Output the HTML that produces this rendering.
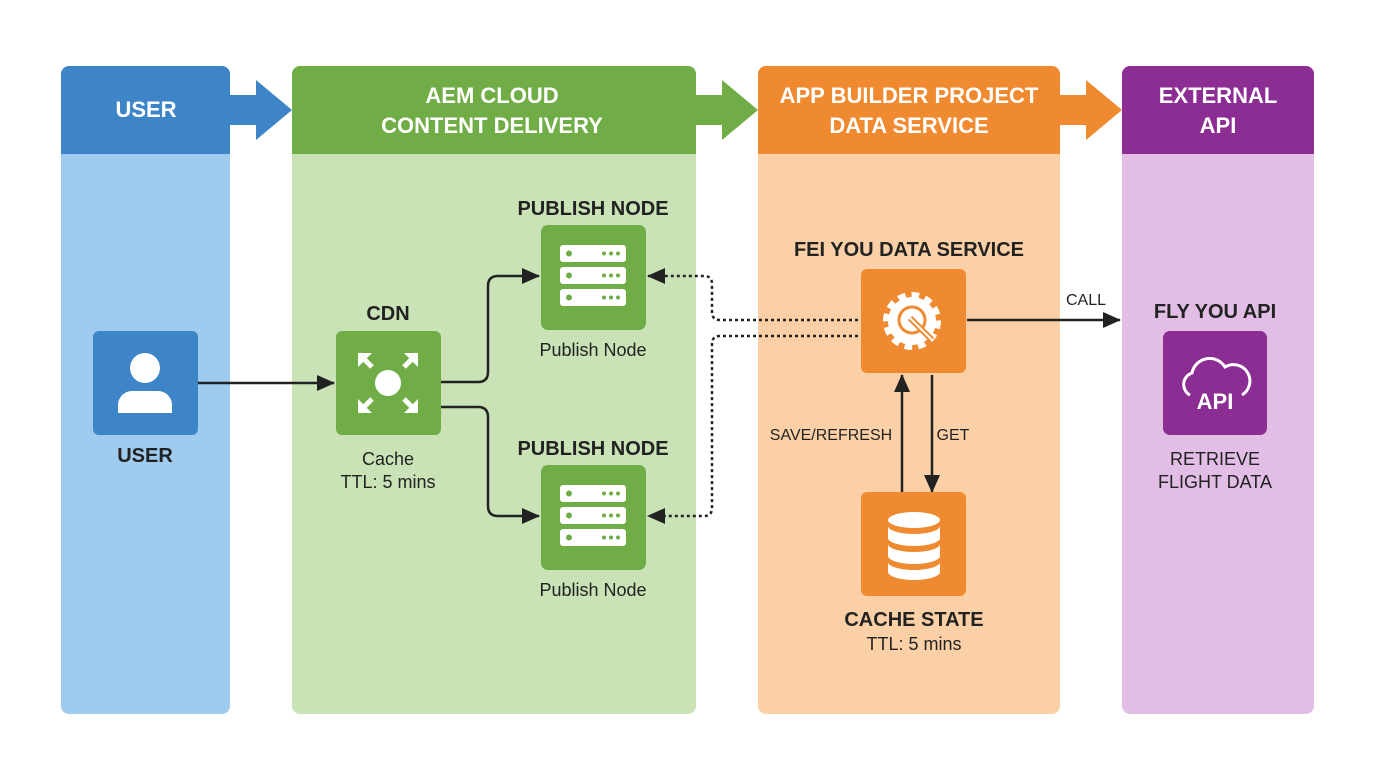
<!DOCTYPE html>
<html><head><meta charset="utf-8"><style>
html,body{margin:0;padding:0;background:#fff;width:1376px;height:768px;overflow:hidden}
text{font-family:"Liberation Sans",sans-serif}
</style></head><body>
<svg width="1376" height="768" viewBox="0 0 1376 768">
<defs>
<marker id="ah" markerWidth="10" markerHeight="10" refX="9" refY="5" orient="auto" markerUnits="userSpaceOnUse"><path d="M0,0 L10,5 L0,10 z" fill="#222"/></marker>
<marker id="ab" markerWidth="18" markerHeight="16" refX="17" refY="8" orient="auto" markerUnits="userSpaceOnUse"><path d="M0,0 L18,8 L0,16 z" fill="#222"/></marker>
</defs>
<!-- columns -->
<rect x="61" y="66" width="169" height="648" rx="8" fill="#9fcbee"/>
<path d="M61,154 V74 a8,8 0 0 1 8,-8 H222 a8,8 0 0 1 8,8 V154 z" fill="#3d85c6"/>
<rect x="292" y="66" width="404" height="648" rx="8" fill="#c9e3b7"/>
<path d="M292,154 V74 a8,8 0 0 1 8,-8 H688 a8,8 0 0 1 8,8 V154 z" fill="#70ad47"/>
<rect x="758" y="66" width="302" height="648" rx="8" fill="#fbd0a6"/>
<path d="M758,154 V74 a8,8 0 0 1 8,-8 H1052 a8,8 0 0 1 8,8 V154 z" fill="#f08a30"/>
<rect x="1122" y="66" width="192" height="648" rx="8" fill="#e2bde5"/>
<path d="M1122,154 V74 a8,8 0 0 1 8,-8 H1306 a8,8 0 0 1 8,8 V154 z" fill="#8b2d93"/>
<!-- header arrows -->
<path d="M230,95 H256 V80 L292,110 L256,140 V125 H230 z" fill="#3d85c6"/>
<path d="M696,95 H722 V80 L758,110 L722,140 V125 H696 z" fill="#70ad47"/>
<path d="M1060,95 H1086 V80 L1122,110 L1086,140 V125 H1060 z" fill="#f08a30"/>
<!-- header text -->
<g fill="#fff" font-weight="bold" font-size="22" text-anchor="middle">
<text x="146" y="117">USER</text>
<text x="492" y="103">AEM CLOUD</text><text x="492" y="133">CONTENT DELIVERY</text>
<text x="909" y="103">APP BUILDER PROJECT</text><text x="909" y="133">DATA SERVICE</text>
<text x="1218" y="103">EXTERNAL</text><text x="1218" y="133">API</text>
</g>
<!-- user node -->
<rect x="93" y="331" width="105" height="104" rx="6" fill="#3d85c6"/>
<circle cx="145" cy="368" r="15" fill="#fff"/>
<path d="M118,413 v-8 a14,14 0 0 1 14,-14 h26 a14,14 0 0 1 14,14 v8 z" fill="#fff"/>
<text x="145" y="462" font-size="20" font-weight="bold" text-anchor="middle" fill="#222">USER</text>
<!-- CDN -->
<text x="388" y="320" font-size="20" font-weight="bold" text-anchor="middle" fill="#222">CDN</text>
<rect x="336" y="331" width="105" height="104" rx="6" fill="#70ad47"/>
<circle cx="388" cy="383" r="13" fill="#fff"/>
<g stroke="#fff" stroke-width="5" fill="#fff">
<line x1="372" y1="367" x2="362" y2="357"/><line x1="404" y1="367" x2="414" y2="357"/>
<line x1="372" y1="399" x2="362" y2="409"/><line x1="404" y1="399" x2="414" y2="409"/>
</g>
<g fill="#fff">
<path d="M358,353 h14 l-14,14z"/><path d="M418,353 h-14 l14,14z"/>
<path d="M358,413 h14 l-14,-14z"/><path d="M418,413 h-14 l14,-14z"/>
</g>
<text x="388" y="465" font-size="18" text-anchor="middle" fill="#222">Cache</text>
<text x="388" y="488" font-size="18" text-anchor="middle" fill="#222">TTL: 5 mins</text>
<!-- publish nodes -->
<g id="pn">
<rect x="541" y="225" width="105" height="105" rx="7" fill="#70ad47"/>
<g fill="#fff"><rect x="560" y="245" width="66" height="17" rx="3"/><rect x="560" y="267" width="66" height="17" rx="3"/><rect x="560" y="289" width="66" height="17" rx="3"/></g>
<g fill="#70ad47"><circle cx="569" cy="253.5" r="3"/><circle cx="569" cy="275.5" r="3"/><circle cx="569" cy="297.5" r="3"/>
<circle cx="604" cy="253.5" r="2"/><circle cx="611" cy="253.5" r="2"/><circle cx="618" cy="253.5" r="2"/>
<circle cx="604" cy="275.5" r="2"/><circle cx="611" cy="275.5" r="2"/><circle cx="618" cy="275.5" r="2"/>
<circle cx="604" cy="297.5" r="2"/><circle cx="611" cy="297.5" r="2"/><circle cx="618" cy="297.5" r="2"/></g>
</g>
<use href="#pn" transform="translate(0,240)"/>
<g font-size="20" font-weight="bold" text-anchor="middle" fill="#222">
<text x="593" y="215">PUBLISH NODE</text><text x="593" y="455">PUBLISH NODE</text></g>
<g font-size="18" text-anchor="middle" fill="#222">
<text x="593" y="356">Publish Node</text><text x="593" y="596">Publish Node</text></g>
<!-- connectors -->
<g stroke="#222" stroke-width="2.5" fill="none">
<line x1="198" y1="383" x2="334" y2="383" marker-end="url(#ab)"/>
<path d="M441,382 H478 Q488,382 488,372 V286 Q488,276 498,276 H539" marker-end="url(#ab)"/>
<path d="M441,407 H478 Q488,407 488,417 V506 Q488,516 498,516 H539" marker-end="url(#ab)"/>
<line x1="967" y1="320" x2="1120" y2="320" marker-end="url(#ab)"/>
<line x1="902" y1="492" x2="902" y2="375" marker-end="url(#ab)"/>
<line x1="932" y1="375" x2="932" y2="492" marker-end="url(#ab)"/>
</g>
<g stroke="#222" stroke-width="2.5" fill="none" stroke-dasharray="3,3">
<path d="M858,320 H720 Q712,320 712,312 V284 Q712,276 704,276 H648" marker-end="url(#ab)"/>
<path d="M858,336 H720 Q712,336 712,344 V508 Q712,516 704,516 H648" marker-end="url(#ab)"/>
</g>
<!-- FEI service -->
<text x="909" y="256" font-size="20" font-weight="bold" text-anchor="middle" fill="#222">FEI YOU DATA SERVICE</text>
<rect x="861" y="269" width="105" height="104" rx="6" fill="#f08a30"/>
<circle cx="912" cy="321" r="24" fill="#fff" stroke="#fff" stroke-width="10" stroke-dasharray="7,5.5"/>
<circle cx="912" cy="321" r="22" fill="#fff"/>
<circle cx="912" cy="320" r="13" fill="none" stroke="#f08a30" stroke-width="3"/>
<line x1="910" y1="318" x2="932" y2="340" stroke="#f08a30" stroke-width="6"/>
<line x1="910" y1="318" x2="932" y2="340" stroke="#fff" stroke-width="2"/>
<text x="831" y="440" font-size="16" text-anchor="middle" fill="#222">SAVE/REFRESH</text>
<text x="953" y="440" font-size="16" text-anchor="middle" fill="#222">GET</text>
<text x="1086" y="305" font-size="16" text-anchor="middle" fill="#222">CALL</text>
<!-- cache state -->
<rect x="861" y="492" width="105" height="104" rx="6" fill="#f08a30"/>
<g fill="#fff">
<ellipse cx="914" cy="520" rx="26" ry="8"/>
<path d="M888,526 a26,8 0 0 0 52,0 v12 a26,8 0 0 1 -52,0z"/>
<path d="M888,544 a26,8 0 0 0 52,0 v12 a26,8 0 0 1 -52,0z"/>
<path d="M888,562 a26,8 0 0 0 52,0 v10 a26,8 0 0 1 -52,0z"/>
</g>
<text x="914" y="626" font-size="20" font-weight="bold" text-anchor="middle" fill="#222">CACHE STATE</text>
<text x="914" y="650" font-size="18" text-anchor="middle" fill="#222">TTL: 5 mins</text>
<!-- API -->
<text x="1215" y="318" font-size="20" font-weight="bold" text-anchor="middle" fill="#222">FLY YOU API</text>
<rect x="1163" y="331" width="104" height="104" rx="7" fill="#8b2d93"/>
<path d="M1190,395 a12,12 0 0 1 2,-22 a18,18 0 0 1 33,-6 a14,14 0 0 1 17,28" fill="none" stroke="#fff" stroke-width="3"/>
<text x="1215" y="409" font-size="22" font-weight="bold" text-anchor="middle" fill="#fff">API</text>
<text x="1215" y="465" font-size="18" text-anchor="middle" fill="#222">RETRIEVE</text>
<text x="1215" y="488" font-size="18" text-anchor="middle" fill="#222">FLIGHT DATA</text>
</svg>
</body></html>
